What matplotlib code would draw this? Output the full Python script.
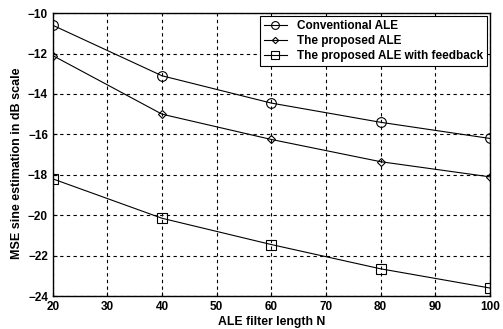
import numpy as np
import matplotlib.pyplot as plt

# data
filter_len = [20, 40, 60, 80, 100]
conventional = [-10.6, -13.1, -14.45, -15.4, -16.2]
proposed = [-12.1, -15.0, -16.25, -17.35, -18.1]
proposed_fb = [-18.2, -20.15, -21.45, -22.65, -23.6]

plt.rcParams["font.family"] = ["Liberation Sans", "DejaVu Sans"]
plt.rcParams["font.weight"] = "bold"
plt.rcParams["axes.labelweight"] = "bold"

fig = plt.figure(figsize=(5.03, 3.29), dpi=100)
ax = fig.add_axes([0.105, 0.100, 0.869, 0.860])

ax.plot(filter_len, conventional, "k-o", lw=0.8, ms=7, mfc="none", mew=0.8,
        label="Conventional ALE")
ax.plot(filter_len, proposed, "k-D", lw=0.8, ms=4, mfc="none", mew=0.8,
        label="The proposed ALE")
ax.plot(filter_len, proposed_fb, "k-s", lw=0.8, ms=6.5, mfc="none", mew=0.8,
        label="The proposed ALE with feedback")

ax.set_xlim(20, 100)
ax.set_ylim(-24, -10)
ax.set_xticks(np.arange(20, 101, 10))
ax.set_yticks(np.arange(-24, -9, 2))
ax.grid(True, color="black", linestyle=(0, (3, 3)), linewidth=0.8)
ax.tick_params(labelsize=8.5, direction="in", length=3)
for sp in ax.spines.values():
    sp.set_linewidth(1.0)

ax.set_xlabel("ALE filter length N", fontsize=8.8, labelpad=2)
ax.set_ylabel("MSE sine estimation in dB scale", fontsize=9, labelpad=4)
ax.yaxis.set_label_coords(-0.068, 0.47)

leg = ax.legend(loc="upper right", fontsize=8.5, fancybox=False, framealpha=1,
                edgecolor="black", handlelength=2.0, borderpad=0.35,
                labelspacing=0.25, borderaxespad=0.25, markerscale=0.8)
leg.get_frame().set_linewidth(0.8)

fig.savefig("out.png", dpi=100)
